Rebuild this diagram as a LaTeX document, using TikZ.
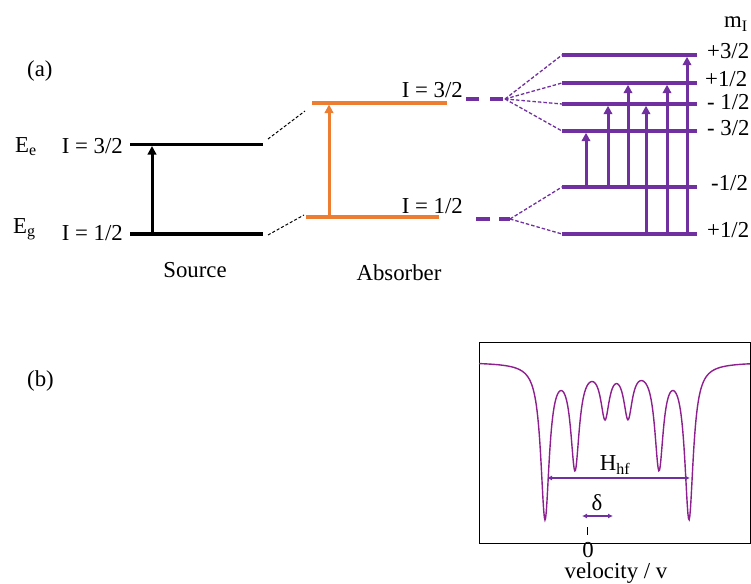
\documentclass[tikz,border=0pt]{standalone}
\usepackage{fontspec}
\setmainfont{Liberation Serif}
\usetikzlibrary{arrows.meta}
\definecolor{lvpurple}{HTML}{7030A0}
\definecolor{orng}{HTML}{ED7D31}
\definecolor{specpurple}{HTML}{8E1F8E}
\begin{document}
\begin{tikzpicture}[x=1pt,y=-1pt,
  font=\fontsize{22.8}{26}\selectfont,
  level/.style={line width=3.4pt},
  trans/.style={line width=3pt,-{Triangle[width=8.5pt,length=8.5pt]}},
  ptrans/.style={lvpurple,line width=3pt,-{Triangle[width=8.5pt,length=8.5pt]}},
  conn/.style={line width=1pt,dash pattern=on 3pt off 2pt},
  fan/.style={lvpurple,line width=1.3pt,dash pattern=on 3.5pt off 2pt},
  stub/.style={lvpurple,line width=3.4pt},
  lbl/.style={inner sep=0pt},
  rl/.style={inner sep=0pt,text height=0.66em,text depth=0pt,anchor=west},
  declare function={lz(\u,\c,\a)=\a*0.27/((\u-\c)^2+0.27);}
]
\useasboundingbox (0,0) rectangle (751,583);

% ---------- (a) ----------
\node[lbl,anchor=base west] (la) at (27,77) {(a)};

% Source levels
\coordinate (se1) at (130,144.5); \coordinate (se2) at (263,144.5);
\coordinate (sg1) at (130,234);   \coordinate (sg2) at (263,234);
\draw[level] (se1) -- (se2);
\draw[level] (sg1) -- (sg2);
\coordinate (sa1) at (152,234); \coordinate (sa2) at (152,146);
\draw[trans] (sa1) -- (sa2);
\node[lbl,anchor=base west] (Ee) at (15,152) {E\textsubscript{e}};
\node[lbl,anchor=base west] (Eg) at (13,233) {E\textsubscript{g}};
\node[lbl,anchor=base east] (sI3) at (123,153) {I = 3/2};
\node[lbl,anchor=base east] (sI1) at (123,240) {I = 1/2};
\node[lbl,anchor=base] (src) at (195,277) {Source};

% Absorber levels
\coordinate (ae1) at (312,103); \coordinate (ae2) at (447,103);
\coordinate (ag1) at (306,217); \coordinate (ag2) at (439,217);
\draw[level,orng] (ae1) -- (ae2);
\draw[level,orng] (ag1) -- (ag2);
\coordinate (aa1) at (329,217); \coordinate (aa2) at (329,104.5);
\draw[trans,orng] (aa1) -- (aa2);
\node[lbl,anchor=base east] (aI3) at (463,98) {I = 3/2};
\node[lbl,anchor=base east] (aI1) at (463,213) {I = 1/2};
\node[lbl,anchor=base] (abs) at (399,280) {Absorber};

% connectors source -> absorber
\coordinate (c1a) at (268,139); \coordinate (c1b) at (305,111);
\coordinate (c2a) at (268,235); \coordinate (c2b) at (304,215);
\draw[conn] (c1a) -- (c1b);
\draw[conn] (c2a) -- (c2b);

% purple stubs
\coordinate (pu1) at (466,99); \coordinate (pu2) at (503,99);
\coordinate (pl1) at (476,219); \coordinate (pl2) at (510,219);
\draw[stub,dash pattern=on 13pt off 11pt] (pu1) -- (pu2);
\draw[stub,dash pattern=on 14pt off 9pt] (pl1) -- (pl2);

% split levels
\foreach \n/\y in {p3/55,p1/83,m1/104,m3/131,gm/187,gp/234}{
  \coordinate (\n a) at (562,\y); \coordinate (\n b) at (697,\y);
  \draw[level,lvpurple] (\n a) -- (\n b);
}
\coordinate (apu) at (505,99);
\coordinate (apl) at (510,219);
\foreach \n in {p3,p1,m1,m3}{\draw[fan] (apu) -- (\n a);}
\foreach \n in {gm,gp}{\draw[fan] (apl) -- (\n a);}

% transitions
\foreach \x/\ya/\yb in {586/187/131,608/187/104,628/187/83,646/234/104,667/234/83,687/234/55}{
  \coordinate (t1) at (\x,\ya); \coordinate (t2) at (\x,\yb+1.7);
  \draw[ptrans] (t1) -- (t2);
}

% mI labels
\node[lbl,anchor=base west] (mI) at (724,28) {m\textsubscript{I}};
\node[rl] (l1) at (707,55) {+3/2};
\node[rl] (l2) at (705,83) {+1/2};
\node[rl] (l3) at (707,106) {- 1/2};
\node[rl] (l4) at (707,132) {- 3/2};
\node[rl] (l5) at (711,187) {-1/2};
\node[rl] (l6) at (707,234) {+1/2};

% ---------- (b) ----------
\node[lbl,anchor=base west] (lb) at (27,386) {(b)};
\node[draw,line width=1.3pt,inner sep=0pt,minimum width=271pt,minimum height=201pt,anchor=north west] (box) at (479,342) {};
\draw[specpurple,line width=1.4pt] plot[domain=47.9:75,samples=420]
  ({10*\x},{362+lz(\x,54.5,154)+lz(\x,57.5,102)+lz(\x,60.5,50)+lz(\x,62.8,50)+lz(\x,65.9,102)+lz(\x,68.9,154)});

\coordinate (h1) at (547,478); \coordinate (h2) at (690,478);
\draw[lvpurple,line width=1.5pt,{Latex[width=5pt,length=5pt]}-{Latex[width=5pt,length=5pt]}] (h1) -- (h2);
\node[lbl,anchor=base] (hhf) at (615,470) {H\textsubscript{hf}};
\coordinate (d1) at (582,516); \coordinate (d2) at (613,516);
\draw[lvpurple,line width=1.5pt,{Latex[width=5pt,length=5pt]}-{Latex[width=5pt,length=5pt]}] (d1) -- (d2);
\node[lbl,anchor=base] (del) at (597,510) {δ};
\coordinate (k1) at (587,527); \coordinate (k2) at (587,535);
\draw[line width=1pt] (k1) -- (k2);
\node[lbl,anchor=base] (zero) at (588,557) {0};
\node[lbl,anchor=base] (vel) at (616,578) {velocity / v};
\end{tikzpicture}
\end{document}
